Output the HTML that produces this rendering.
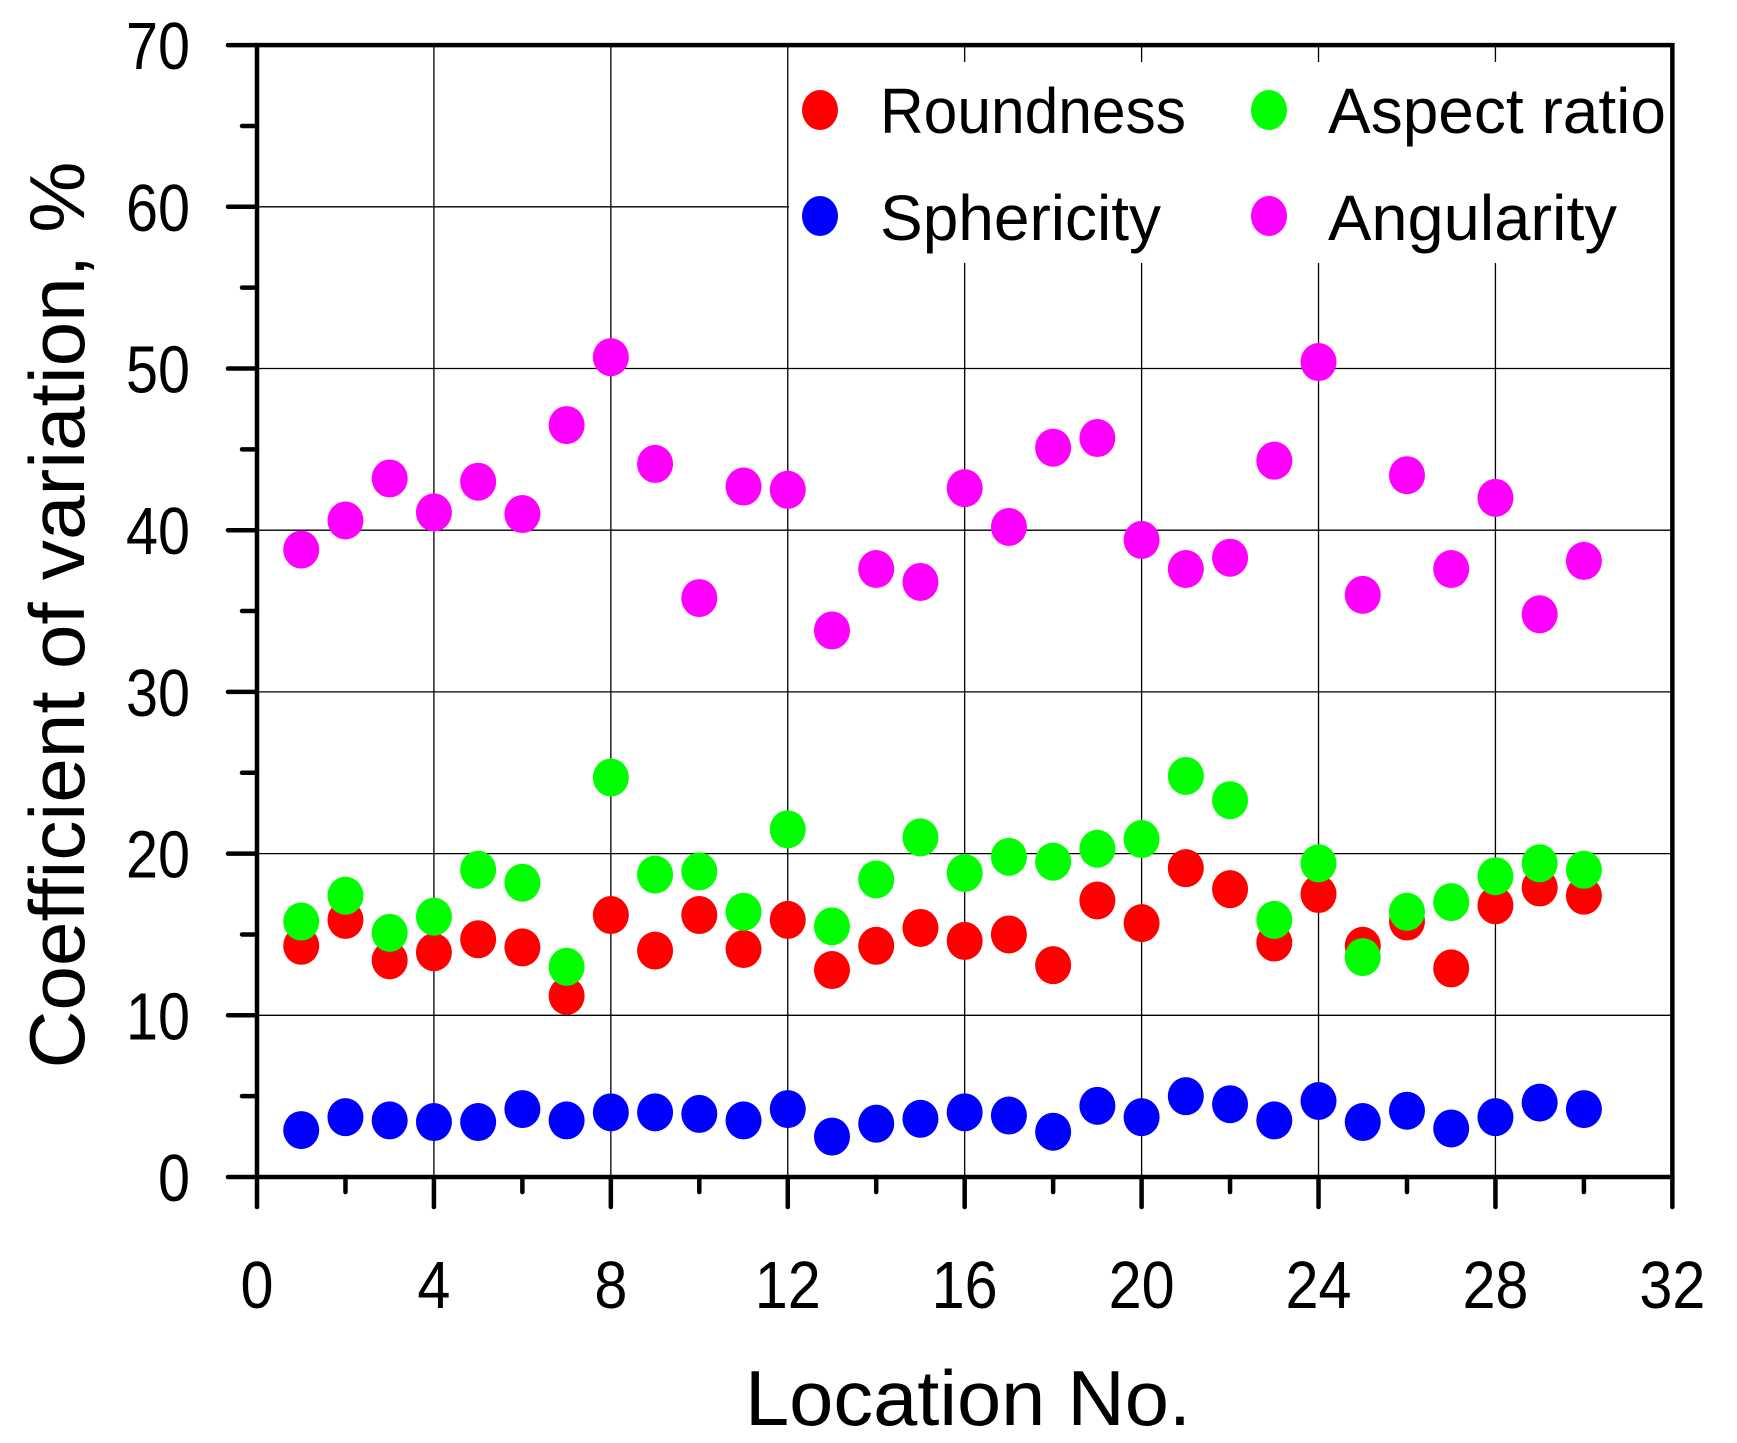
<!DOCTYPE html>
<html><head><meta charset="utf-8"><style>
html,body{margin:0;padding:0;background:#fff;}
svg{display:block;}
text{font-family:"Liberation Sans",sans-serif;fill:#000;}
</style></head><body>
<svg width="1737" height="1443" viewBox="0 0 1737 1443" xmlns="http://www.w3.org/2000/svg">
<g id="grid" stroke="#000" stroke-width="1.3"></g>
<rect x="789" y="62" width="884" height="201" fill="#fff"/>
<g id="axes" stroke="#000" stroke-width="4.5" stroke-linecap="round"></g>
<g id="labels" font-size="67"></g>
<g id="pts"></g>
<g>
<ellipse cx="820" cy="110" rx="18" ry="20" fill="#ff0000"/>
<ellipse cx="820" cy="216" rx="18" ry="20" fill="#0000ff"/>
<ellipse cx="1269" cy="110" rx="18" ry="20" fill="#00ff00"/>
<ellipse cx="1269" cy="216" rx="18" ry="20" fill="#ff00ff"/>
<text x="880" y="133" font-size="64" textLength="306" lengthAdjust="spacingAndGlyphs">Roundness</text>
<text x="880" y="240" font-size="64" textLength="281" lengthAdjust="spacingAndGlyphs">Sphericity</text>
<text x="1328" y="133" font-size="64" textLength="338" lengthAdjust="spacingAndGlyphs">Aspect ratio</text>
<text x="1328" y="240" font-size="64" textLength="289" lengthAdjust="spacingAndGlyphs">Angularity</text>
</g>
<text x="968" y="1425" font-size="78" text-anchor="middle" textLength="446" lengthAdjust="spacingAndGlyphs">Location No.</text>
<text transform="translate(84,615) rotate(-90)" font-size="78" text-anchor="middle" textLength="907" lengthAdjust="spacingAndGlyphs">Coefficient of variation, %</text>
<script>
var X0=257,XU=44.23,Y0=1177,YU=16.17,ns="http://www.w3.org/2000/svg";
function el(p,t,a){var e=document.createElementNS(ns,t);for(var k in a)e.setAttribute(k,a[k]);p.appendChild(e);return e;}
var g=document.getElementById('grid'),ax=document.getElementById('axes'),lb=document.getElementById('labels'),pts=document.getElementById('pts');
var XR=X0+32*XU,YT=Y0-70*YU;
for(var v=4;v<32;v+=4){var x=X0+v*XU;el(g,'line',{x1:x,y1:YT,x2:x,y2:Y0});}
for(var v=10;v<70;v+=10){var y=Y0-v*YU;el(g,'line',{x1:X0,y1:y,x2:XR,y2:y});}
el(ax,'rect',{x:X0,y:YT,width:XR-X0,height:Y0-YT,fill:'none'});
for(var v=0;v<=70;v+=5){var y=Y0-v*YU;el(ax,'line',{x1:X0,y1:y,x2:(v%10?242:228),y2:y});
 if(v%10==0){var s=String(v);var t=el(lb,'text',{x:190,y:y+24,'text-anchor':'end',textLength:s.length*32,lengthAdjust:'spacingAndGlyphs'});t.textContent=s;}}
for(var v=0;v<=32;v+=2){var x=X0+v*XU;el(ax,'line',{x1:x,y1:Y0,x2:x,y2:(v%4?1192:1207)});
 if(v%4==0){var s=String(v);var t=el(lb,'text',{x:x,y:1308,'text-anchor':'middle',textLength:s.length*33,lengthAdjust:'spacingAndGlyphs'});t.textContent=s;}}
var R=[14.3,15.9,13.4,13.9,14.7,14.2,11.2,16.2,14.0,16.2,14.1,15.9,12.8,14.3,15.4,14.6,15.0,13.1,17.1,15.7,19.1,17.8,14.5,17.5,14.3,15.8,12.9,16.8,17.9,17.4];
var A=[15.8,17.4,15.1,16.1,19.0,18.2,13.0,24.7,18.7,18.9,16.4,21.5,15.5,18.4,21.0,18.8,19.8,19.5,20.3,20.9,24.8,23.3,15.9,19.4,13.6,16.4,17.0,18.6,19.4,19.0];
var S=[2.9,3.7,3.5,3.4,3.4,4.2,3.5,4.0,4.0,3.9,3.5,4.2,2.5,3.3,3.6,4.0,3.8,2.8,4.4,3.7,5.0,4.5,3.5,4.7,3.4,4.1,3.0,3.7,4.6,4.2];
var G=[38.8,40.6,43.2,41.1,43.0,41.0,46.5,50.7,44.1,35.8,42.7,42.5,33.8,37.6,36.8,42.6,40.2,45.1,45.7,39.4,37.6,38.3,44.3,50.4,36.0,43.4,37.6,42.0,34.8,38.1];
[[R,'#ff0000'],[A,'#00ff00'],[S,'#0000ff'],[G,'#ff00ff']].forEach(function(s){
 s[0].forEach(function(v,i){el(pts,'ellipse',{cx:X0+(i+1)*XU,cy:Y0-v*YU,rx:18,ry:19,fill:s[1]});});});
</script>
</svg>
</body></html>
